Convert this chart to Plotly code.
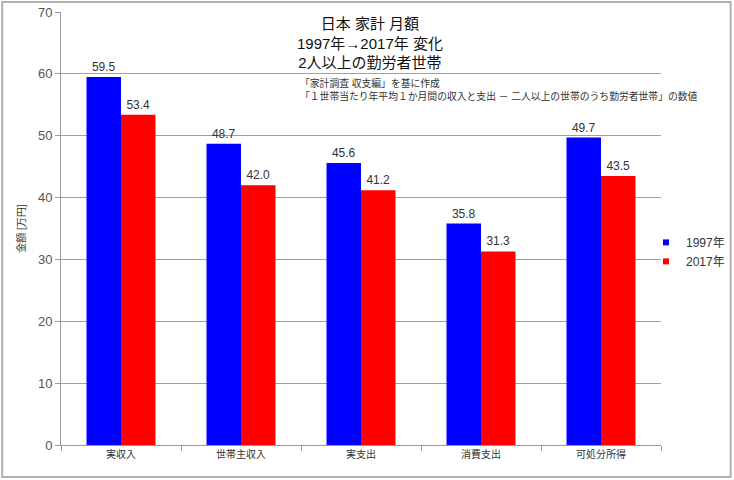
import plotly.graph_objects as go

categories = ["実収入", "世帯主収入", "実支出", "消費支出", "可処分所得"]
values_1997 = [59.5, 48.7, 45.6, 35.8, 49.7]
values_2017 = [53.4, 42.0, 41.2, 31.3, 43.5]
series_names = ["1997年", "2017年"]
series_colors = ["#0000FF", "#FF0000"]

jp_font = "Liberation Sans, Noto Sans CJK JP, sans-serif"
num_font = "Liberation Sans, Arial, sans-serif"

fig = go.Figure()

for vals, name, color in zip([values_1997, values_2017], series_names, series_colors):
    fig.add_trace(go.Bar(
        x=categories, y=vals, name=name, showlegend=False,
        marker=dict(color=color, line=dict(width=0)),
        text=[f"{v:.1f}" for v in vals], textposition="outside",
        textfont=dict(family=num_font, size=12, color="#333333"),
        cliponaxis=False,
    ))

# small square legend markers
for name, color in zip(series_names, series_colors):
    fig.add_trace(go.Scatter(
        x=[None], y=[None], mode="markers", name=name,
        marker=dict(symbol="square", size=6, color=color),
    ))

fig.update_layout(
    width=734, height=480,
    margin=dict(l=61, r=73, t=12, b=35, autoexpand=False),
    paper_bgcolor="white", plot_bgcolor="white",
    barmode="group", bargap=0.425, bargroupgap=0,
    font=dict(family=jp_font, color="#333333"),
    legend=dict(x=0.975, y=0.446, xanchor="left", yanchor="middle",
                font=dict(family=jp_font, size=12, color="#333333"),
                itemwidth=30, tracegroupgap=0, bgcolor="rgba(0,0,0,0)"),
    xaxis=dict(
        tickson="boundaries", ticks="outside", ticklen=5, tickcolor="#999999",
        showline=True, linecolor="#999999", linewidth=1, showgrid=False,
        tickfont=dict(family=jp_font, size=10, color="#333333"),
    ),
    yaxis=dict(
        range=[0, 70], dtick=10, ticks="outside", ticklen=5, tickcolor="#999999",
        showline=True, linecolor="#999999", linewidth=1,
        showgrid=True, gridcolor="#a0a0a0", gridwidth=1,
        tickfont=dict(family=num_font, size=13, color="#555555"),
        title=dict(text="金額 [万円]", font=dict(family=jp_font, size=10, color="#333333"),
                   standoff=10),
        zeroline=False,
    ),
    annotations=[
        dict(text="日本 家計 月額<br>1997年→2017年 変化<br>2人以上の勤労者世帯",
             x=0.515, y=0.998, xref="paper", yref="paper", xanchor="center", yanchor="top",
             showarrow=False, align="center",
             font=dict(family=jp_font, size=15, color="#111111")),
        dict(text="「家計調査 収支編」を基に作成<br>「１世帯当たり年平均１か月間の収入と支出 － 二人以上の世帯のうち勤労者世帯」の数値",
             x=0.395, y=0.855, xref="paper", yref="paper", xanchor="left", yanchor="top",
             showarrow=False, align="left",
             font=dict(family=jp_font, size=9.8, color="#333333")),
    ],
    shapes=[
        dict(type="rect", xref="paper", yref="paper",
             x0=-0.098, x1=1.116, y0=-0.074, y1=1.023,
             line=dict(color="#b0b0b0", width=2), fillcolor="rgba(0,0,0,0)"),
    ],
)

fig.write_html("out.html", config={"displayModeBar": False},
               post_script="document.body.style.margin='0';")
